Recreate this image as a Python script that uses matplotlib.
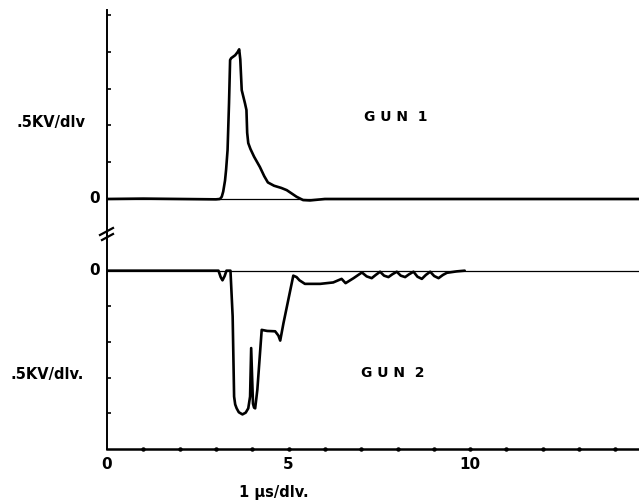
import matplotlib
matplotlib.use("Agg")
import matplotlib.pyplot as plt
from matplotlib.lines import Line2D

# ---- data (divisions) ----
gun1_t = [0.0, 1.0, 2.0, 3.0, 3.11, 3.16, 3.20, 3.25, 3.28, 3.32, 3.36, 3.39, 3.42, 3.53,
          3.60, 3.64, 3.67, 3.71, 3.80, 3.84, 3.86, 3.89, 3.95, 4.05, 4.21, 4.33, 4.43,
          4.60, 4.80, 4.95, 5.10, 5.22, 5.40, 5.59, 6.0, 8.0, 10.0, 12.0, 14.65]
gun1_v = [0.0, 0.01, 0.0, -0.01, 0.0, 0.06, 0.20, 0.50, 0.80, 1.33, 2.60, 3.78, 3.83, 3.91,
          4.00, 4.07, 3.80, 2.96, 2.60, 2.42, 1.80, 1.52, 1.36, 1.15, 0.87, 0.62, 0.45,
          0.36, 0.30, 0.24, 0.14, 0.06, -0.03, -0.04, 0.0, 0.0, 0.0, 0.0, 0.0]

gun2_t = [0.0, 2.0, 3.07, 3.13, 3.18, 3.24, 3.29, 3.40, 3.46, 3.50, 3.53, 3.57, 3.63, 3.73,
          3.82, 3.89, 3.94, 3.97, 4.02, 4.05, 4.08, 4.14, 4.26, 4.41, 4.63, 4.72, 4.77,
          4.86, 5.13, 5.22, 5.30, 5.45, 5.87, 6.23, 6.46, 6.57, 6.79, 7.02, 7.15, 7.29,
          7.40, 7.52, 7.63, 7.75, 7.86, 7.98, 8.09, 8.21, 8.32, 8.44, 8.55, 8.67, 8.78,
          8.90, 9.01, 9.13, 9.25, 9.36, 9.63, 9.85]
gun2_v = [0.0, 0.0, 0.0, -0.18, -0.27, -0.15, 0.0, 0.0, -1.28, -3.53, -3.75, -3.86, -3.97,
          -4.03, -3.98, -3.86, -3.53, -2.17, -3.73, -3.84, -3.86, -3.34, -1.66, -1.69,
          -1.70, -1.82, -1.96, -1.47, -0.14, -0.18, -0.27, -0.37, -0.37, -0.33, -0.23,
          -0.35, -0.21, -0.05, -0.16, -0.21, -0.12, -0.03, -0.14, -0.18, -0.10, -0.03,
          -0.14, -0.18, -0.10, -0.03, -0.17, -0.23, -0.12, -0.03, -0.15, -0.21, -0.12,
          -0.06, -0.02, 0.0]

x_ticks = [0, 5, 10]
x_tick_labels = ["0", "5", "10"]
top_ticks = [1, 2, 3, 4, 5]
bottom_ticks = [-1, -2, -3, -4]

FONT = "DejaVu Sans"
W, H = 639, 503
fig = plt.figure(figsize=(W / 100, H / 100), dpi=100)

left = 107 / W
width = (W - 107) / W
ax1 = fig.add_axes([left, (H - 235) / H, width, 225 / H])
ax2 = fig.add_axes([left, (H - 449) / H, width, 214 / H])

for ax in (ax1, ax2):
    ax.set_xlim(0, 14.65)
    ax.set_facecolor("none")
    for s in ("top", "right"):
        ax.spines[s].set_visible(False)
    ax.spines["left"].set_linewidth(1.4)
    ax.tick_params(axis="y", direction="in", length=3, width=1.2, labelleft=False)

ax1.set_ylim(-0.98, 5.14)
ax2.set_ylim(-5, 1)
ax1.spines["bottom"].set_visible(False)
ax1.set_xticks([])
ax1.set_yticks(top_ticks)
ax2.set_yticks(bottom_ticks)

# zero reference lines
ax1.axhline(0, color="black", lw=0.9)
ax2.axhline(0, color="black", lw=0.9)

# traces
ax1.plot(gun1_t, gun1_v, color="black", lw=1.9, solid_joinstyle="round", solid_capstyle="round")
ax2.plot(gun2_t, gun2_v, color="black", lw=1.9, solid_joinstyle="round", solid_capstyle="round")

# bottom axis
ax2.spines["bottom"].set_linewidth(1.8)
ax2.set_xticks(x_ticks)
ax2.set_xticklabels(x_tick_labels, fontsize=11, fontweight="bold", family=FONT)
ax2.tick_params(axis="x", length=0, pad=6)
ax2.plot(range(1, 15), [-5] * 14, "o", color="black", ms=2.2, clip_on=False)

# zero labels
ax1.text(-0.2, 0, "0", ha="right", va="center", fontsize=11, fontweight="bold", family=FONT)
ax2.text(-0.2, 0, "0", ha="right", va="center", fontsize=11, fontweight="bold", family=FONT)

# axis annotations
fig.text(17 / W, 1 - 122 / H, ".5KV/dlv", ha="left", va="center", fontsize=10.5,
         fontweight="bold", family=FONT)
fig.text(10 / W, 1 - 375 / H, ".5KV/dlv.", ha="left", va="center", fontsize=10.5,
         fontweight="bold", family=FONT)
fig.text(274 / W, 1 - 493 / H, "1 \u03bcs/dlv.", ha="center", va="center", fontsize=10.5,
         fontweight="bold", family=FONT)
fig.text(396 / W, 1 - 117 / H, "G U N  1", ha="center", va="center", fontsize=10,
         fontweight="bold", family=FONT)
fig.text(393 / W, 1 - 373 / H, "G U N  2", ha="center", va="center", fontsize=10,
         fontweight="bold", family=FONT)

# axis break mark
for (x0, y0, x1, y1) in [(100, 235, 113, 228), (102, 240, 113, 234)]:
    fig.add_artist(Line2D([x0 / W, x1 / W], [1 - y0 / H, 1 - y1 / H],
                          transform=fig.transFigure, color="black", lw=1.6))

fig.savefig("out.png", dpi=100)
